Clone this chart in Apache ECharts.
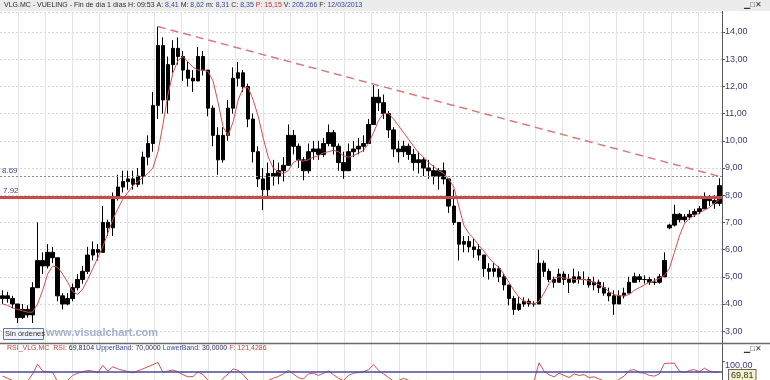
<!DOCTYPE html>
<html><head><meta charset="utf-8">
<script src="https://cdn.jsdelivr.net/npm/echarts@6/dist/echarts.min.js"></script>
<style>html,body{margin:0;padding:0;background:#fff}#c{width:770px;height:380px}</style>
</head><body><div id="c"></div>
<script>
// ---- data ----
const opens = [
4.2,4.3,4.2,4.0,3.5,3.8,3.6,4.6,5.6,5.4,
5.9,5.7,4.3,4.0,4.2,4.6,4.9,5.2,5.8,6.0,
5.9,7.0,6.8,7.9,8.3,8.5,8.6,8.4,8.7,9.4,
9.9,11.3,13.5,11.5,12.8,13.4,13.1,12.6,12.3,12.2,
13.1,12.6,11.2,10.2,9.3,10.2,11.2,12.3,12.5,12.0,
10.8,9.6,8.6,8.2,8.8,8.7,8.9,9.1,10.2,9.8,
9.3,8.9,9.6,9.7,9.5,9.9,10.3,9.8,9.2,8.9,
9.6,9.7,9.8,9.9,10.6,11.6,11.4,11.0,10.4,9.7,
9.6,9.8,9.5,9.2,9.3,9.0,8.9,8.7,8.9,8.6,
7.6,7.0,6.2,6.3,6.1,6.0,5.8,5.3,5.2,5.3,
5.0,4.7,4.2,3.8,4.0,4.1,4.0,4.0,5.5,5.2,
4.9,4.8,5.1,4.9,4.8,5.0,4.9,4.9,4.7,4.8,
4.6,4.4,4.3,4.0,4.3,4.4,4.8,5.0,4.9,4.9,
4.8,4.8,5.0,6.8,6.9,7.3,7.1,7.2,7.3,7.4,
7.5,7.9,7.8,7.7];
const closes = [
4.3,4.2,4.0,3.5,3.8,3.6,4.6,5.6,5.4,5.9,
5.7,4.3,4.0,4.2,4.6,4.9,5.2,5.8,6.0,5.9,
7.0,6.8,7.9,8.3,8.5,8.6,8.4,8.7,9.4,9.9,
11.3,13.5,11.5,12.8,13.4,13.1,12.6,12.3,12.2,13.1,
12.6,11.2,10.2,9.3,10.2,11.2,12.3,12.5,12.0,10.8,
9.6,8.6,8.2,8.8,8.7,8.9,9.1,10.2,9.8,9.3,
8.9,9.6,9.7,9.5,9.9,10.3,9.8,9.2,8.9,9.6,
9.7,9.8,9.9,10.6,11.6,11.4,11.0,10.4,9.7,9.6,
9.8,9.5,9.2,9.3,9.0,8.9,8.7,8.9,8.6,7.6,
7.0,6.2,6.3,6.1,6.0,5.8,5.3,5.2,5.3,5.0,
4.7,4.2,3.8,4.0,4.1,4.0,4.0,5.5,5.2,4.9,
4.8,5.1,4.9,4.8,5.0,4.9,4.9,4.7,4.8,4.6,
4.4,4.3,4.0,4.3,4.4,4.8,5.0,4.9,4.9,4.8,
4.8,5.0,5.6,6.9,7.3,7.1,7.2,7.3,7.4,7.5,
7.9,7.8,7.7,8.35];
const lows = [
4.0,4.05,3.85,3.3,3.45,3.5,3.3,4.6,5.1,5.3,
5.5,4.1,3.8,3.95,4.1,4.5,4.75,5.1,5.6,5.6,
5.9,6.5,6.5,7.8,8.1,8.2,8.2,8.3,8.4,9.1,
9.6,10.8,11.0,11.0,12.5,12.8,12.2,12.0,11.8,12.2,
12.4,10.9,9.8,8.75,9.2,10.0,11.0,12.0,11.8,10.5,
9.2,8.3,7.45,7.9,8.35,8.4,8.5,9.1,9.5,9.0,
8.55,8.8,9.3,9.3,9.4,9.8,9.5,8.9,8.6,8.9,
9.4,9.5,9.6,9.9,10.6,11.1,10.8,10.1,9.4,9.2,
9.4,9.3,8.9,8.8,8.7,8.6,8.4,8.2,8.4,7.35,
6.9,5.6,5.9,5.9,5.7,5.6,5.0,4.9,5.0,4.8,
4.5,3.95,3.6,3.75,3.9,3.9,3.9,4.0,5.0,4.8,
4.6,4.8,4.7,4.4,4.75,4.75,4.7,4.6,4.5,4.4,
4.3,4.1,3.6,4.0,4.2,4.4,4.8,4.8,4.75,4.7,
4.7,4.75,5.0,6.75,6.85,7.0,7.0,7.1,7.2,7.3,
7.5,7.6,7.5,7.6];
const highs = [
4.5,4.45,4.3,4.0,4.0,3.95,4.8,7.0,5.9,6.2,
6.1,5.7,4.4,4.4,4.75,5.1,5.4,6.1,6.3,6.2,
7.6,7.1,8.1,8.75,8.9,8.9,8.9,9.0,9.6,10.2,
11.8,14.2,13.8,13.1,13.7,13.8,13.3,12.9,12.6,13.45,
13.3,12.6,11.3,10.5,10.5,11.5,12.7,12.9,12.6,12.1,
11.0,9.8,9.0,9.2,9.3,9.2,9.4,10.6,10.4,9.9,
9.4,9.9,10.0,10.0,10.1,10.6,10.4,9.9,9.6,9.9,
10.0,10.1,10.2,10.8,12.05,11.9,11.7,11.1,10.5,10.0,
10.0,9.9,9.7,9.6,9.4,9.3,9.1,9.0,9.2,8.6,
8.2,7.0,6.5,6.5,6.4,6.2,5.8,5.5,5.5,5.4,
5.1,4.7,4.3,4.25,4.25,4.2,4.1,6.0,5.6,5.3,
5.0,5.3,5.2,5.1,5.3,5.2,5.2,5.0,5.0,4.9,
4.8,4.6,4.5,4.5,4.6,5.0,5.15,5.1,5.05,5.0,
4.95,5.1,5.9,6.95,7.65,7.35,7.3,7.45,7.5,7.6,
8.1,8.0,8.0,8.62];
const maValues = [
4.0,3.95,3.85,3.8,3.75,3.7,3.7,4.0,4.5,5.1,
5.4,5.35,5.1,4.8,4.45,4.35,4.55,4.9,5.3,5.7,
6.1,6.6,7.1,7.5,7.85,8.1,8.35,8.5,8.65,8.8,
9.0,9.6,10.6,11.7,12.5,12.95,13.1,12.9,12.7,12.6,
12.6,12.55,12.2,11.4,10.5,10.2,10.7,11.5,11.95,11.95,
11.5,10.9,10.1,9.4,9.0,8.85,8.8,8.9,9.2,9.3,
9.25,9.3,9.4,9.45,9.55,9.6,9.65,9.6,9.45,9.4,
9.45,9.55,9.65,9.9,10.3,10.75,11.0,11.0,10.8,10.55,
10.3,10.05,9.8,9.55,9.4,9.2,9.05,8.9,8.8,8.6,
8.3,7.6,6.9,6.6,6.4,6.15,5.95,5.7,5.5,5.35,
5.1,4.8,4.5,4.25,4.1,4.05,4.0,4.1,4.4,4.75,
4.95,5.0,4.95,4.95,4.9,4.9,4.9,4.85,4.8,4.7,
4.6,4.45,4.35,4.3,4.3,4.35,4.5,4.6,4.7,4.8,
4.85,4.95,5.05,5.3,5.9,6.5,6.95,7.15,7.25,7.35,
7.45,7.55,7.7,7.85];
const rsiValues = [
58,52,46,38,46,44,64,91,72,70,
68,42,36,46,60,66,70,74,72,67,
88,72,84,78,74,71,67,73,78,84,
90,96,68,72,75,70,62,56,57,70,
62,46,40,36,52,64,78,74,62,46,
38,32,30,46,52,57,64,74,64,54,
50,64,66,60,66,72,62,52,46,60,
66,68,70,76,90,74,64,54,44,46,
52,46,42,46,44,42,40,46,44,30,
30,22,36,38,36,32,28,36,40,36,
30,26,24,36,44,42,44,95,72,62,
56,66,60,54,64,60,62,54,56,50,
44,42,36,50,58,74,76,68,66,60,
58,64,93,94,94,72,68,74,76,70,
80,72,68,69.81];
const sessions = closes.map((_, i) => 'S' + (i + 1));
const priceMin = 3, priceStep = 1;
const levelRed = 7.92, levelDotted = 8.69;
const trendStart = [31, 14.2], trendEnd = [143, 8.69];
const rsiUpper = 70;
const headerParts = ['VLG.MC - VUELING - Fin de día 1 días ', 'H: ', '09:53', ' A: ', '8,41', ' M: ', '8,62', ' m: ', '8,31', ' C: ', '8,35', ' P: 15,15', ' V: ', '205.266', ' F: ', '12/03/2013'];

// ---- chart ----
const fmt = v => Number(v).toFixed(2).replace('.', ',');
const candles = opens.map((o, i) => [o, closes[i], lows[i], highs[i]]);
const last = closes.length - 1;
const FONT = 'Arial, "Liberation Sans", sans-serif';

const chart = echarts.init(document.getElementById('c'));
const headerRich = headerParts.map((t, i) => {
  let s = 'v';
  if (i === 0 || t.indexOf(':') >= 0) s = 'k';
  if (t.indexOf('P:') >= 0) s = 'r';
  return '{' + s + '|' + t + '}';
}).join('');
const boxStyle = {color: '#333', backgroundColor: '#f3f3c8', borderColor: '#666', borderWidth: 1,
  padding: [1, 2, 0, 2], fontSize: 9, fontFamily: FONT};

const baseGraphic = [
  {type: 'rect', left: 0, top: 0, shape: {width: 770, height: 11}, style: {fill: '#ececec'}, z: 0},
  {type: 'text', left: 4, top: 2, z: 10,
   style: {text: headerRich, font: '7px ' + FONT,
           rich: {k: {fill: '#2a2a2a', font: '7px ' + FONT}, v: {fill: '#3a4a9a', font: '7px ' + FONT}, r: {fill: '#d03030', font: '7px ' + FONT}}}},
  {type: 'text', left: 744, top: 1, z: 10, style: {text: '▁□✕', font: '8px ' + FONT, fill: '#333'}},
  {type: 'line', shape: {x1: 722.5, y1: 11, x2: 722.5, y2: 380}, style: {stroke: '#5a5a5a', lineWidth: 1}, z: 10},
  {type: 'line', shape: {x1: 0, y1: 343.5, x2: 770, y2: 343.5}, style: {stroke: '#6a6a6a', lineWidth: 1.5}, z: 10},
  {type: 'rect', left: 3, top: 328, shape: {width: 40, height: 11}, style: {fill: '#f2f4fa', stroke: '#5a7aa8', lineWidth: 1}, z: 10},
  {type: 'text', left: 5, top: 330, z: 11, style: {text: 'Sin órdenes', font: '7.5px ' + FONT, fill: '#333'}},
  {type: 'text', left: 46, top: 327, z: 10, style: {text: 'www.visualchart.com', font: 'bold 11px ' + FONT, fill: '#a4b0cc'}},
  {type: 'text', left: 7, top: 345, z: 10,
   style: {text: '{r|RSI_VLG.MC  RSI: }{v|69,8104 }{l|UpperBand: }{v|70,0000 }{l|LowerBand: }{v|30,0000 }{r|F: 121,4286}',
           font: '7px ' + FONT,
           rich: {r: {fill: '#c84040', font: '7px ' + FONT}, v: {fill: '#2a2a5a', font: '7px ' + FONT}, l: {fill: '#3a4a9a', font: '7px ' + FONT}}}},
  {type: 'text', left: 744, top: 345, z: 10, style: {text: '▁□✕', font: '8px ' + FONT, fill: '#333'}}
];

chart.setOption({
  animation: false,
  backgroundColor: '#ffffff',
  grid: [
    {left: 0, right: 48, top: 12, height: 319.2, outerBoundsMode: 'none', containLabel: false},
    {left: 18, right: 48, top: 12, bottom: 0, outerBoundsMode: 'none', containLabel: false},
    {left: 0, right: 48, top: 361, height: 36, outerBoundsMode: 'none', containLabel: false}
  ],
  xAxis: [
    {type: 'category', gridIndex: 0, data: sessions, boundaryGap: true,
     axisLine: {show: false}, axisTick: {show: false}, axisLabel: {show: false}, splitLine: {show: false}},
    {type: 'value', gridIndex: 1, min: 0, max: 25.88, interval: 1,
     axisLine: {show: false}, axisTick: {show: false}, axisLabel: {show: false},
     splitLine: {show: true, lineStyle: {color: '#e4e4e4', width: 1}}},
    {type: 'category', gridIndex: 2, data: sessions, boundaryGap: true,
     axisLine: {show: false}, axisTick: {show: false}, axisLabel: {show: false}, splitLine: {show: false}}
  ],
  yAxis: [
    {type: 'value', gridIndex: 0, position: 'right', min: priceMin, max: 14.735, interval: priceStep,
     axisLine: {show: false},
     axisTick: {show: true, length: 3, lineStyle: {color: '#555'}},
     axisLabel: {color: '#3c3c6e', fontSize: 9, fontFamily: FONT, margin: 3, showMaxLabel: false,
                 formatter: v => (Math.abs(v - Math.round(v)) < 1e-6 ? fmt(v) : '')},
     splitLine: {show: true, lineStyle: {color: '#d6d6d6', type: [2, 2], width: 1}}},
    {type: 'value', gridIndex: 1, min: 0, max: 1, show: false},
    {type: 'value', gridIndex: 2, position: 'right', min: 0, max: 100, interval: 100,
     axisLine: {show: false},
     axisTick: {show: true, length: 3, lineStyle: {color: '#555'}},
     axisLabel: {color: '#3c3c6e', fontSize: 9, fontFamily: FONT, margin: 3, showMinLabel: false,
                 verticalAlign: 'top', formatter: v => fmt(v)},
     splitLine: {show: false}}
  ],
  series: [
    {type: 'candlestick', xAxisIndex: 0, yAxisIndex: 0, data: candles, barWidth: '80%', clip: false,
     itemStyle: {color: '#000', color0: '#000', borderColor: '#000', borderColor0: '#000', borderWidth: 1},
     markLine: {
       silent: true, symbol: 'none', animation: false,
       data: [
         {yAxis: levelDotted, lineStyle: {color: '#8a8a8a', type: [2, 2], width: 1},
          label: {show: true, position: 'insideStartTop', formatter: String(levelDotted), color: '#3c4c8c', fontSize: 8, fontFamily: FONT, distance: 2}},
         {yAxis: levelRed, lineStyle: {color: '#c84a4a', type: 'solid', width: 3},
          label: {show: true, position: 'insideStartTop', formatter: String(levelRed), color: '#3c4c8c', fontSize: 8, fontFamily: FONT, distance: 3}},
         [{coord: [sessions[trendStart[0]], trendStart[1]], lineStyle: {color: '#d97b7b', type: [8, 5], width: 1.5}, label: {show: false}},
          {coord: [sessions[trendEnd[0]], trendEnd[1]]}],
         {yAxis: closes[last], lineStyle: {opacity: 0},
          label: Object.assign({show: true, position: 'end', distance: 6, formatter: fmt(closes[last])}, boxStyle)}
       ]
     }},
    {type: 'line', xAxisIndex: 0, yAxisIndex: 0, data: maValues, showSymbol: false, symbol: 'none',
     lineStyle: {color: '#d25050', width: 1}, z: 3},
    {type: 'line', xAxisIndex: 2, yAxisIndex: 2, data: rsiValues, showSymbol: false, symbol: 'none',
     lineStyle: {color: '#d25050', width: 1}, z: 3,
     markLine: {
       silent: true, symbol: 'none', animation: false,
       data: [
         {yAxis: rsiUpper, lineStyle: {color: '#4a4a9c', type: 'solid', width: 1.5}, label: {show: false}}
       ]
     }}
  ],
  graphic: baseGraphic
});

// current RSI value box, placed through the RSI axis scale
const rsiY = chart.convertToPixel({yAxisIndex: 2}, rsiValues[last]);
chart.setOption({
  graphic: baseGraphic.concat([
    {type: 'text', left: 728, top: Math.round(rsiY) - 3, z: 20,
     style: {text: fmt(rsiValues[last]), font: '9px ' + FONT, fill: '#333',
             backgroundColor: '#f3f3c8', borderColor: '#666', borderWidth: 1, padding: [1, 2, 0, 2]}}
  ])
});
</script>
</body></html>
